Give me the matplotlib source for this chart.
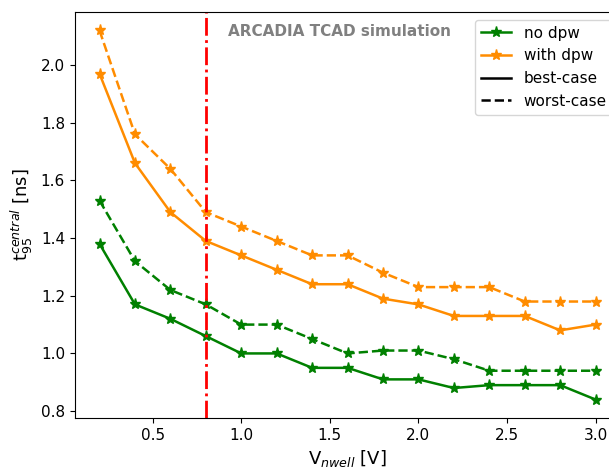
import numpy as np
import matplotlib
matplotlib.use('Agg')
import matplotlib.pyplot as plt
from matplotlib.lines import Line2D

# data
V = np.array([0.2, 0.4, 0.6, 0.8, 1.0, 1.2, 1.4, 1.6, 1.8, 2.0, 2.2, 2.4, 2.6, 2.8, 3.0])

nodpw_best = np.array([1.38, 1.17, 1.12, 1.06, 1.00, 1.00, 0.95, 0.95, 0.91, 0.91, 0.88, 0.89, 0.89, 0.89, 0.84])
nodpw_worst = np.array([1.53, 1.32, 1.22, 1.17, 1.10, 1.10, 1.05, 1.00, 1.01, 1.01, 0.98, 0.94, 0.94, 0.94, 0.94])
dpw_best = np.array([1.97, 1.66, 1.49, 1.39, 1.34, 1.29, 1.24, 1.24, 1.19, 1.17, 1.13, 1.13, 1.13, 1.08, 1.10])
dpw_worst = np.array([2.12, 1.76, 1.64, 1.49, 1.44, 1.39, 1.34, 1.34, 1.28, 1.23, 1.23, 1.23, 1.18, 1.18, 1.18])

V_cut = 0.8

fig = plt.figure(figsize=(6.09, 4.68), dpi=100)
ax = fig.add_axes([0.1227, 0.1068, 0.896, 0.8675])

ax.plot(V, nodpw_best, '-', color='green', marker='*', ms=8, lw=1.8)
ax.plot(V, nodpw_worst, '--', color='green', marker='*', ms=8, lw=1.8)
ax.plot(V, dpw_best, '-', color='darkorange', marker='*', ms=8, lw=1.8)
ax.plot(V, dpw_worst, '--', color='darkorange', marker='*', ms=8, lw=1.8)

ax.axvline(V_cut, color='red', ls='-.', lw=2)

ax.text(0.925, 2.118, 'ARCADIA TCAD simulation', color='grey', fontsize=11,
        fontweight='bold', va='center')

handles = [Line2D([], [], color='green', marker='*', ms=8, lw=1.8),
           Line2D([], [], color='darkorange', marker='*', ms=8, lw=1.8),
           Line2D([], [], color='black', ls='-', lw=1.8),
           Line2D([], [], color='black', ls='--', lw=1.8)]
ax.legend(handles, ['no dpw', 'with dpw', 'best-case', 'worst-case'],
          loc='upper right', fontsize=11)

ax.set_xlabel(r'V$_{nwell}$ [V]', fontsize=13)
ax.set_ylabel(r't$_{95}^{central}$ [ns]', fontsize=13)
ax.tick_params(labelsize=11)

plt.savefig('out.png', dpi=100)
